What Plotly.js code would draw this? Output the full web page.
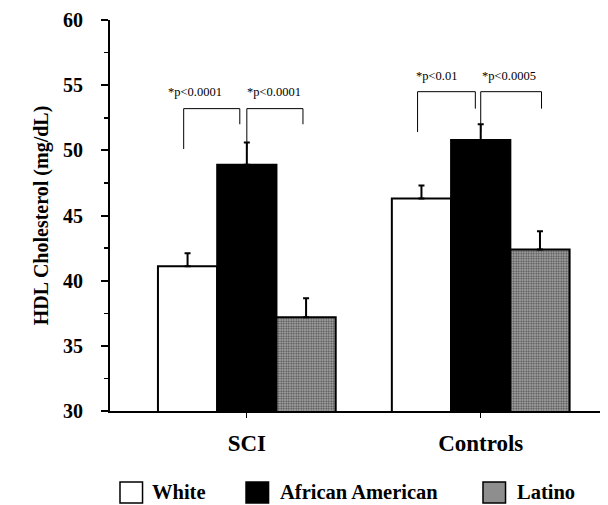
<!DOCTYPE html>
<html><head><meta charset="utf-8">
<script src="https://cdn.plot.ly/plotly-3.0.1.min.js"></script>
<style>body{margin:0;background:#fff}#chart{width:608px;height:505px}</style>
</head><body><div id="chart"></div>
<script>
const groups = ["SCI", "Controls"];
const seriesNames = ["White", "African American", "Latino"];
const white = [41.1, 46.3];
const whiteErr = [1.0, 1.0];
const african = [48.9, 50.8];
const africanErr = [1.7, 1.2];
const latino = [37.2, 42.4];
const latinoErr = [1.45, 1.4];
const yTicks = [30, 35, 40, 45, 50, 55, 60];

// significance brackets
const bracketX0 = [-0.27, 0.0, 0.73, 1.0];
const bracketX1 = [-0.03, 0.24, 0.977, 1.26];
const bracketLow = [50.1, 52.0, 51.4, 53.2];
const bracketTop = [53.2, 53.2, 54.5, 54.5];
const bracketInner = [52.0, 50.1, 53.2, 51.4];
const pLabels = ["*p<0.0001", "*p<0.0001", "*p<0.01", "*p<0.0005"];
const pLabelX = [-0.22, 0.115, 0.81, 1.122];
const pLabelY = [54.45, 54.45, 55.7, 55.7];

const serif = "Liberation Serif, Times New Roman, serif";
const lineStyle = {color: "#000", width: 2};
function errs(a){ return {type: "data", array: a, arrayminus: a.map(()=>0), symmetric: false, color: "#000", thickness: 2, width: 3}; }

const fills = ["#ffffff", "#000000", "#a0a0a0"];
const traces = [
  {type: "bar", name: seriesNames[0], x: groups, y: white, error_y: errs(whiteErr),
   marker: {color: fills[0], line: lineStyle}},
  {type: "bar", name: seriesNames[1], x: groups, y: african, error_y: errs(africanErr),
   marker: {color: fills[1], line: lineStyle}},
  {type: "bar", name: seriesNames[2], x: groups, y: latino, error_y: errs(latinoErr),
   marker: {color: fills[2], line: lineStyle,
     pattern: {shape: ".", fgcolor: "#555", bgcolor: "#b4b4b4", size: 2.5, solidity: 0.5}}}
];

const shapes = [];
for (let i = 0; i < bracketX0.length; i++) {
  const leftV = i % 2 === 0;
  const yA = leftV ? bracketLow[i] : bracketInner[i];
  const yB = leftV ? bracketInner[i] : bracketLow[i];
  shapes.push({type: "path", xref: "x", yref: "y", line: {color: "#000", width: 1},
    path: `M ${bracketX0[i]},${yA} L ${bracketX0[i]},${bracketTop[i]} L ${bracketX1[i]},${bracketTop[i]} L ${bracketX1[i]},${yB}`});
}
const annotations = pLabels.map((t, i) => ({
  text: t, x: pLabelX[i], y: pLabelY[i], xref: "x", yref: "y", showarrow: false,
  font: {family: serif, size: 12.5, color: "#000"}
}));

// manual legend (paper coordinates)
const legBoxX0 = [0.0204, 0.2776, 0.7612];
const legBoxW = 0.046;
const legTextX = [0.0816, 0.3429, 0.8265];
for (let i = 0; i < 3; i++) {
  shapes.push({type: "rect", xref: "paper", yref: "paper", x0: legBoxX0[i], x1: legBoxX0[i] + legBoxW,
    y0: -0.2353, y1: -0.1816, fillcolor: i === 2 ? "#8e8e8e" : fills[i], line: {color: "#000", width: 1.5}});
  annotations.push({text: "<b>" + seriesNames[i] + "</b>", xref: "paper", yref: "paper", x: legTextX[i], y: -0.207,
    xanchor: "left", yanchor: "middle", showarrow: false,
    font: {family: serif, size: 20.5, color: "#000"}});
}

const layout = {
  width: 608, height: 505,
  margin: {l: 110, r: 8, t: 20, b: 94},
  paper_bgcolor: "#fff", plot_bgcolor: "#fff",
  barmode: "group", bargap: 0.24, bargroupgap: 0,
  showlegend: false,
  xaxis: {type: "category", range: [-0.585, 1.51], showline: true, linecolor: "#000", linewidth: 2,
    tickvals: groups, ticktext: groups.map(g => "<b>" + g + "</b>"),
    ticks: "outside", ticklen: 5, tickcolor: "#000", tickwidth: 1, ticklabelstandoff: 5,
    tickfont: {family: serif, size: 23, color: "#000"}, showgrid: false, zeroline: false},
  yaxis: {range: [30, 60], tickvals: yTicks, ticktext: yTicks.map(v => "<b>" + v + "</b>"), showline: true, linecolor: "#000", linewidth: 2,
    ticks: "outside", ticklen: 7, tickcolor: "#000", tickwidth: 2, ticklabelstandoff: 14,
    minor: {dtick: 2.5, ticks: "outside", ticklen: 4, tickcolor: "#000", tickwidth: 1.5},
    tickfont: {family: serif, size: 20, color: "#000"},
    title: {text: "<b>HDL Cholesterol (mg/dL)</b>", font: {family: serif, size: 20, color: "#000"}, standoff: 9},
    showgrid: false, zeroline: false},
  shapes: shapes, annotations: annotations
};
Plotly.newPlot("chart", traces, layout, {displayModeBar: false, staticPlot: true});
</script></body></html>
